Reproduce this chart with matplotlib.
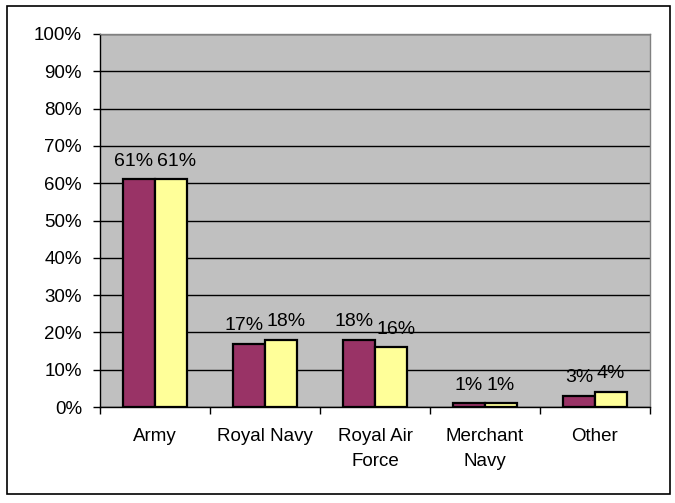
import matplotlib
matplotlib.use("Agg")
import matplotlib.pyplot as plt
from matplotlib.patches import Rectangle
import numpy as np

categories = ["Army", "Royal Navy", "Royal Air\nForce", "Merchant\nNavy", "Other"]
series_a = [61, 17, 18, 1, 3]
series_b = [61, 18, 16, 1, 4]
yticks = [0, 10, 20, 30, 40, 50, 60, 70, 80, 90, 100]

plt.rcParams['font.family'] = ['Liberation Sans', 'DejaVu Sans']

fig = plt.figure(figsize=(6.75, 5.03), dpi=100)
ax = fig.add_axes([100/675, (503-407)/503, 550/675, (407-34)/503])
ax.set_facecolor('#C0C0C0')

x = np.arange(len(categories))
w = 0.29
b1 = ax.bar(x - w/2, series_a, w, color='#993366', edgecolor='black', linewidth=1.6, zorder=3)
b2 = ax.bar(x + w/2, series_b, w, color='#FFFF99', edgecolor='black', linewidth=1.6, zorder=3)

labels_a, labels_b = [], []
for bars, vals, store in ((b1, series_a, labels_a), (b2, series_b, labels_b)):
    for r, v in zip(bars, vals):
        t = ax.annotate(f"{v}%", (r.get_x() + r.get_width()/2, v), xytext=(0, 7),
                        textcoords='offset points', ha='center', va='bottom', fontsize=14)
        store.append(t)

ax.set_xlim(-0.5, len(categories) - 0.5)
ax.set_ylim(0, 100)
ax.set_yticks(yticks)
ax.set_yticklabels([f"{t}%" for t in yticks], fontsize=13.5)
ax.yaxis.grid(True, color='black', linewidth=1, zorder=0)
ax.set_axisbelow(True)

ax.set_xticks(np.arange(len(categories) + 1) - 0.5)
ax.set_xticklabels([])
ax.set_xticks(x, minor=True)
ax.set_xticklabels(categories, minor=True, fontsize=13.5, linespacing=1.6)
ax.tick_params(axis='x', which='minor', length=0, pad=15)
ax.tick_params(axis='x', which='major', length=5, width=1, color='black')
ax.tick_params(axis='y', length=5, width=1, pad=8)

for s in ('left', 'bottom'):
    ax.spines[s].set_color('black')
    ax.spines[s].set_linewidth(1)
for s in ('top', 'right'):
    ax.spines[s].set_color('#808080')
    ax.spines[s].set_linewidth(1)

# push apart value labels that would overlap horizontally
fig.canvas.draw()
renderer = fig.canvas.get_renderer()
px_to_pt = 72 / fig.dpi
for ta, tb in zip(labels_a, labels_b):
    ea = ta.get_window_extent(renderer)
    eb = tb.get_window_extent(renderer)
    vert = min(ea.y1, eb.y1) - max(ea.y0, eb.y0)
    overlap = ea.x1 - eb.x0
    if overlap > -2 and vert > 0:
        shift = (overlap + 3) / 2 * px_to_pt
        ta.xyann = (-shift, 7)
        tb.xyann = (shift, 7)

fig.patches.append(Rectangle((7/675, 1 - 494/503), 663/675, 488/503, transform=fig.transFigure,
                             fill=False, edgecolor='black', linewidth=1.2))

fig.savefig("out.png", dpi=100)
